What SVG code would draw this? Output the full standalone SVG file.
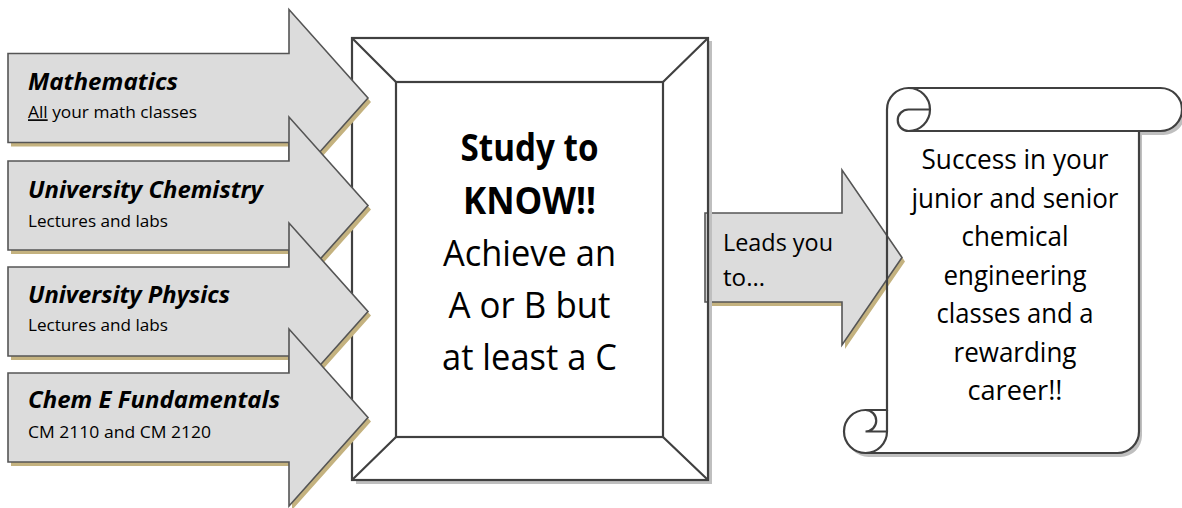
<svg xmlns="http://www.w3.org/2000/svg" width="1182" height="508" viewBox="0 0 1182 508">
<style>
.arrow{fill:#DCDCDC;stroke:#555555;stroke-width:1.6;stroke-linejoin:miter}
.tan{fill:#C4B27F;stroke:none}
.line{fill:none;stroke:#404040;stroke-width:2.2;stroke-linejoin:miter}
.gshadow{fill:#BFBFBF;stroke:none}
.t{font-family:"Open Sans","Noto Sans","Liberation Sans",sans-serif;fill:#000}
.title{font-size:23.5px;font-weight:bold;font-style:italic}
.sub{font-size:16.5px}
.big{font-size:37px;text-anchor:middle}
.bold{font-weight:bold}
.scr{font-size:28px;text-anchor:middle}
.lead{font-size:24px}
</style>
<defs>
<path id="scrollOutline" d="M887,410 L887,109.5 A21.5,21.5 0 0 1 908.5,88 L1160.5,88 A21.5,21.5 0 0 1 1160.5,131 L1139,131 L1139,431.5 A21.5,21.5 0 0 1 1117.5,453 L865.5,453 A21.5,21.5 0 0 1 865.5,410 Z"/>
<mask id="scrollMask" maskUnits="userSpaceOnUse" x="0" y="0" width="1182" height="508">
<rect x="0" y="0" width="1182" height="508" fill="#fff"/>
<use href="#scrollOutline" fill="#000"/>
</mask>
</defs>
<rect x="0" y="0" width="1182" height="508" fill="#fff"/>
<g id="connectors"></g>

<g id="node-leads">
<polygon class="tan" transform="translate(3,4)" points="705,213 842,213 842,170 902,257.5 842,345 842,302 705,302"/>
<polygon class="arrow" points="705,213 842,213 842,170 902,257.5 842,345 842,302 705,302"/>
<text class="t lead" x="723" y="251" textLength="110" lengthAdjust="spacingAndGlyphs">Leads you</text>
<text class="t lead" x="723" y="286" textLength="42" lengthAdjust="spacingAndGlyphs">to…</text>
</g>

<g id="node-study">
<polygon class="gshadow" points="708,41 712,41 712,484 356,484 356,480 708,480"/>
<rect class="line" x="352" y="38" width="356" height="442"/>
<rect class="line" x="396" y="82" width="267" height="355"/>
<path class="line" d="M352,38 L396,82 M708,38 L663,82 M352,480 L396,437 M708,480 L663,437"/>
<text class="t big bold" x="529.5" y="161" textLength="138" lengthAdjust="spacingAndGlyphs">Study to</text>
<text class="t big bold" x="529.5" y="213.5" textLength="133" lengthAdjust="spacingAndGlyphs">KNOW!!</text>
<text class="t big" x="529.5" y="266" textLength="173" lengthAdjust="spacingAndGlyphs">Achieve an</text>
<text class="t big" x="529.5" y="318" textLength="162" lengthAdjust="spacingAndGlyphs">A or B but</text>
<text class="t big" x="529.5" y="370" textLength="175" lengthAdjust="spacingAndGlyphs">at least a C</text>
</g>

<g id="node-success">
<g mask="url(#scrollMask)">
<use href="#scrollOutline" class="gshadow" transform="translate(3,4)"/>
</g>
<use href="#scrollOutline" class="line"/>
<path class="line" d="M908.5,88 A21.5,21.5 0 0 1 908.5,131 A10.75,10.75 0 0 1 908.5,109.5 L930,109.5 M1139,131 L908.5,131 M865.5,410 A10.75,10.75 0 0 1 865.5,431.5 L887,431.5 M865.5,453 A21.5,21.5 0 0 0 887,431.5 L887,410"/>
<text class="t scr" x="1015" y="169" textLength="187" lengthAdjust="spacingAndGlyphs">Success in your</text>
<text class="t scr" x="1015" y="207.5" textLength="207" lengthAdjust="spacingAndGlyphs">junior and senior</text>
<text class="t scr" x="1015" y="246" textLength="107" lengthAdjust="spacingAndGlyphs">chemical</text>
<text class="t scr" x="1015" y="284.5" textLength="143" lengthAdjust="spacingAndGlyphs">engineering</text>
<text class="t scr" x="1015" y="323" textLength="157" lengthAdjust="spacingAndGlyphs">classes and a</text>
<text class="t scr" x="1015" y="361.5" textLength="123" lengthAdjust="spacingAndGlyphs">rewarding</text>
<text class="t scr" x="1015" y="400" textLength="95" lengthAdjust="spacingAndGlyphs">career!!</text>
</g>

<g id="node-math">
<polygon class="tan" transform="translate(3,4)" points="8,53.5 289,53.5 289,9.5 368,98 289,186.5 289,142.5 8,142.5"/>
<polygon class="arrow" points="8,53.5 289,53.5 289,9.5 368,98 289,186.5 289,142.5 8,142.5"/>
<text class="t title" x="28" y="90" textLength="150" lengthAdjust="spacingAndGlyphs">Mathematics</text>
<text class="t sub" x="28" y="118.3" textLength="169" lengthAdjust="spacingAndGlyphs"><tspan text-decoration="underline">All</tspan> your math classes</text>
</g>

<g id="node-chem">
<polygon class="tan" transform="translate(3,4)" points="8,161 289,161 289,117 368,205.5 289,294 289,250 8,250"/>
<polygon class="arrow" points="8,161 289,161 289,117 368,205.5 289,294 289,250 8,250"/>
<text class="t title" x="28" y="198.3" textLength="235" lengthAdjust="spacingAndGlyphs">University Chemistry</text>
<text class="t sub" x="28" y="226.7" textLength="140" lengthAdjust="spacingAndGlyphs">Lectures and labs</text>
</g>

<g id="node-physics">
<polygon class="tan" transform="translate(3,4)" points="8,267 289,267 289,223 368,311.5 289,400 289,356 8,356"/>
<polygon class="arrow" points="8,267 289,267 289,223 368,311.5 289,400 289,356 8,356"/>
<text class="t title" x="28" y="303.3" textLength="202" lengthAdjust="spacingAndGlyphs">University Physics</text>
<text class="t sub" x="28" y="331" textLength="140" lengthAdjust="spacingAndGlyphs">Lectures and labs</text>
</g>

<g id="node-cheme">
<polygon class="tan" transform="translate(3,4)" points="8,373 289,373 289,329 368,417.5 289,506 289,462 8,462"/>
<polygon class="arrow" points="8,373 289,373 289,329 368,417.5 289,506 289,462 8,462"/>
<text class="t title" x="28" y="408.3" textLength="252" lengthAdjust="spacingAndGlyphs">Chem E Fundamentals</text>
<text class="t sub" x="28" y="437.7" textLength="183" lengthAdjust="spacingAndGlyphs">CM 2110 and CM 2120</text>
</g>
</svg>
